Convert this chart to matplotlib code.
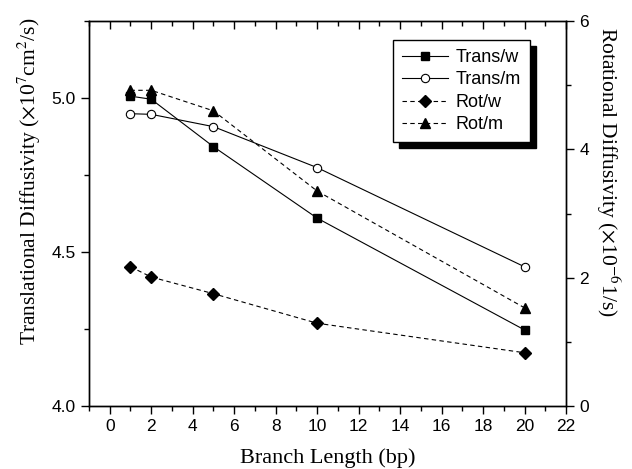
import matplotlib
matplotlib.use("Agg")
import matplotlib.pyplot as plt
from matplotlib.patches import Rectangle
from matplotlib.ticker import MultipleLocator

plt.rcParams['font.family'] = ['Liberation Sans', 'DejaVu Sans']
plt.rcParams['mathtext.fontset'] = 'stix'

# branch length (bp)
bp = [1, 2, 5, 10, 20]
# translational diffusivity (x1e7 cm^2/s), left axis
trans_w = [5.006, 4.996, 4.842, 4.610, 4.247]
trans_m = [4.949, 4.947, 4.907, 4.774, 4.452]
# rotational diffusivity (x1e-6 1/s), right axis
rot_w = [2.17, 2.01, 1.75, 1.29, 0.83]
rot_m = [4.92, 4.92, 4.60, 3.35, 1.53]

fig = plt.figure(figsize=(6.32, 4.69), dpi=100)
ax1 = fig.add_axes([89/632, (469-406)/469, (566-89)/632, (406-21)/469])
ax2 = ax1.twinx()

l1, = ax1.plot(bp, trans_w, '-', color='k', lw=0.8, marker='s', ms=5.5,
               mfc='k', mec='k', label='Trans/w')
l2, = ax1.plot(bp, trans_m, '-', color='k', lw=0.8, marker='o', ms=6,
               mfc='white', mec='k', mew=0.8, label='Trans/m')
l3, = ax2.plot(bp, rot_w, '--', color='k', lw=0.8, marker='D', ms=6.5,
               mfc='k', mec='k', label='Rot/w', dashes=(4, 3))
l4, = ax2.plot(bp, rot_m, '--', color='k', lw=0.8, marker='^', ms=7,
               mfc='k', mec='k', label='Rot/m', dashes=(4, 3))

ax1.set_xlim(-1, 22)
ax1.set_ylim(4.0, 5.25)
ax2.set_ylim(0, 6)

ax1.xaxis.set_major_locator(MultipleLocator(2))
ax1.xaxis.set_minor_locator(MultipleLocator(1))
ax1.yaxis.set_major_locator(MultipleLocator(0.5))
ax1.yaxis.set_minor_locator(MultipleLocator(0.25))
ax1.yaxis.set_major_formatter(plt.FormatStrFormatter('%.1f'))
ax2.yaxis.set_major_locator(MultipleLocator(2))
ax2.yaxis.set_minor_locator(MultipleLocator(1))

ax1.tick_params(axis='x', which='both', direction='out', top=True, labelsize=12.5)
ax1.tick_params(axis='y', which='both', direction='out', right=False, labelsize=12.5)
ax1.tick_params(which='major', length=6, width=1)
ax1.tick_params(which='minor', length=3.5, width=1)
ax2.tick_params(axis='y', which='both', direction='out', labelsize=12.5)
ax2.tick_params(which='major', length=6, width=1)
ax2.tick_params(which='minor', length=3.5, width=1)
# top ticks point inwards
for t in ax1.xaxis.get_major_ticks() + ax1.xaxis.get_minor_ticks():
    t.tick2line.set_marker(matplotlib.markers.TICKDOWN)

for a in (ax1, ax2):
    for s in a.spines.values():
        s.set_linewidth(1)

ax1.set_xlabel('Branch Length (bp)', family='Liberation Serif', fontsize=16, labelpad=10)
ax1.set_ylabel('Translational Diffusivity ($\\times$10$^7$cm$^2$/s)',
               family='Liberation Serif', fontsize=15.5, labelpad=6, y=0.584)
ax2.set_ylabel('Rotational Diffusivity ($\\times$10$^{-6}$1/s)',
               family='Liberation Serif', fontsize=15.5, rotation=270,
               labelpad=24, y=0.608)

leg = ax2.legend(handles=[l1, l2, l3, l4], loc='upper right',
                 bbox_to_anchor=(0.9245, 0.9506), borderaxespad=0,
                 fancybox=False, edgecolor='k', framealpha=1, fontsize=13,
                 handlelength=2.5, labelspacing=0.3, borderpad=0.5,
                 handletextpad=0.45)
leg.get_frame().set_linewidth(1)
leg.set_zorder(6)

fig.canvas.draw()
bb = leg.get_window_extent().transformed(fig.transFigure.inverted())
sh = Rectangle((bb.x0 + 6/632, bb.y0 - 6/469), bb.width, bb.height,
               transform=fig.transFigure, facecolor='k', edgecolor='k',
               zorder=5, clip_on=False)
ax2.add_patch(sh)

fig.savefig('out.png', dpi=100)
